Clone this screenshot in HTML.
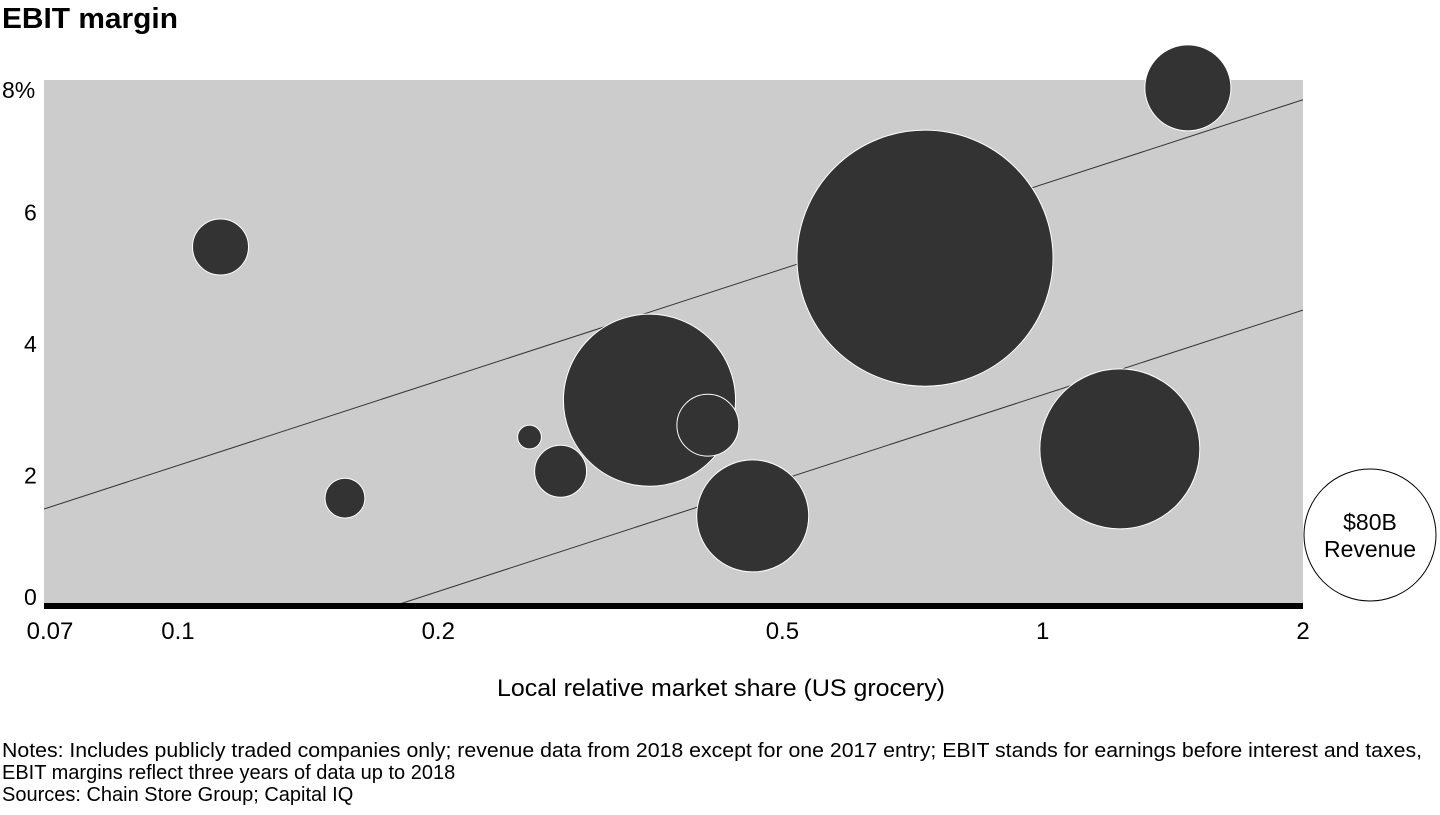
<!DOCTYPE html>
<html><head><meta charset="utf-8">
<style>
body{margin:0;background:#fff;font-family:"Liberation Sans",sans-serif;}
svg text{font-family:"Liberation Sans",sans-serif;}
</style></head>
<body>
<svg id="chart" width="1440" height="810" xmlns="http://www.w3.org/2000/svg">
<text x="2" y="28" font-size="29" font-weight="bold" fill="#000" textLength="176" lengthAdjust="spacingAndGlyphs">EBIT margin</text>
<rect x="44" y="80" width="1259" height="526" fill="#cccccc"/>
<defs><clipPath id="pc"><rect x="44" y="80" width="1259" height="526"/></clipPath></defs>
<g id="trend" clip-path="url(#pc)"></g>
<g id="bubbles"></g>
<rect x="44" y="603" width="1259" height="6" fill="#000"/>
<g id="xticks"></g>
<g id="yticks"></g>
<text x="497" y="696" font-size="24" textLength="448" lengthAdjust="spacingAndGlyphs">Local relative market share (US grocery)</text>
<g>
<circle cx="1370" cy="535" r="66" fill="#fff" stroke="#000" stroke-width="1"/>
<text x="1370" y="530" font-size="23" text-anchor="middle">$80B</text>
<text x="1370" y="557" font-size="23" text-anchor="middle">Revenue</text>
</g>
<text x="2" y="757" font-size="20" textLength="1420" lengthAdjust="spacingAndGlyphs">Notes: Includes publicly traded companies only; revenue data from 2018 except for one 2017 entry; EBIT stands for earnings before interest and taxes,</text>
<text x="2" y="779" font-size="20">EBIT margins reflect three years of data up to 2018</text>
<text x="2" y="801" font-size="20">Sources: Chain Store Group; Capital IQ</text>
</svg>
<script>
const shares = [0.112, 0.156, 0.255, 0.277, 0.351, 0.410, 0.462, 0.731, 1.228, 1.472];
const margins = [5.46, 1.64, 2.57, 2.05, 3.13, 2.75, 1.37, 5.29, 2.39, 7.88];
const revenues = [14.4, 7.3, 2.6, 12.4, 136, 17.6, 57.6, 301, 117.5, 34];
const xTicks = [0.07, 0.1, 0.2, 0.5, 1, 2];
const xTickLabels = ["0.07", "0.1", "0.2", "0.5", "1", "2"];
const yTicks = [0, 2, 4, 6, 8];
const yTickLabels = ["0", "2", "4", "6", "8%"];
const upperLine = [[0.07, 1.475], [2, 7.70]];
const lowerLine = [[0.07, -1.73], [2, 4.50]];
const legendRevenue = 80;

const NS = "http://www.w3.org/2000/svg";
const X0 = 44, X1 = 1303, Y0 = 606, Y1 = 80;
const xMin = 0.07, xMax = 2, yMin = 0, yMax = 8;
function xs(v){return X0 + (Math.log10(v) - Math.log10(xMin)) / (Math.log10(xMax) - Math.log10(xMin)) * (X1 - X0);}
function ys(v){return Y0 - (v - yMin) / (yMax - yMin) * (Y0 - Y1);}
function rs(v){return 66 * Math.sqrt(v / legendRevenue);}
function mk(t, a, p){const e = document.createElementNS(NS, t); for (const k in a) e.setAttribute(k, a[k]); p.appendChild(e); return e;}

const trend = document.getElementById('trend');
[upperLine, lowerLine].forEach((ln, i) => {
  const l = mk('line', {x1: xs(ln[0][0]), y1: ys(ln[0][1]), x2: xs(ln[1][0]), y2: ys(ln[1][1]), stroke: '#333', 'stroke-width': 1}, trend);
  
  
});

const bub = document.getElementById('bubbles');
shares.forEach((s, i) => {
  const c = mk('circle', {cx: xs(s), cy: ys(margins[i]), r: rs(revenues[i]), fill: '#333333', stroke: '#fff', 'stroke-width': 1}, bub);
  
  
});

const xt = document.getElementById('xticks');
xTicks.forEach((v, i) => {
  const t = mk('text', {x: xs(v), y: 639, 'font-size': 24, 'text-anchor': 'middle'}, xt);
  if (i === 0) t.setAttribute('x', xs(v) + 6);
  t.textContent = xTickLabels[i];
  
  
});
const yt = document.getElementById('yticks');
yTicks.forEach((v, i) => {
  const t = mk('text', {x: 24, y: Math.min(ys(v) + 9, 605), 'font-size': 23, 'text-anchor': 'start'}, yt);
  if (i === yTicks.length - 1) { t.setAttribute('y', ys(v) + 18); t.setAttribute('x', 2); }
  t.textContent = yTickLabels[i];
  
  
});
</script>
</body></html>
